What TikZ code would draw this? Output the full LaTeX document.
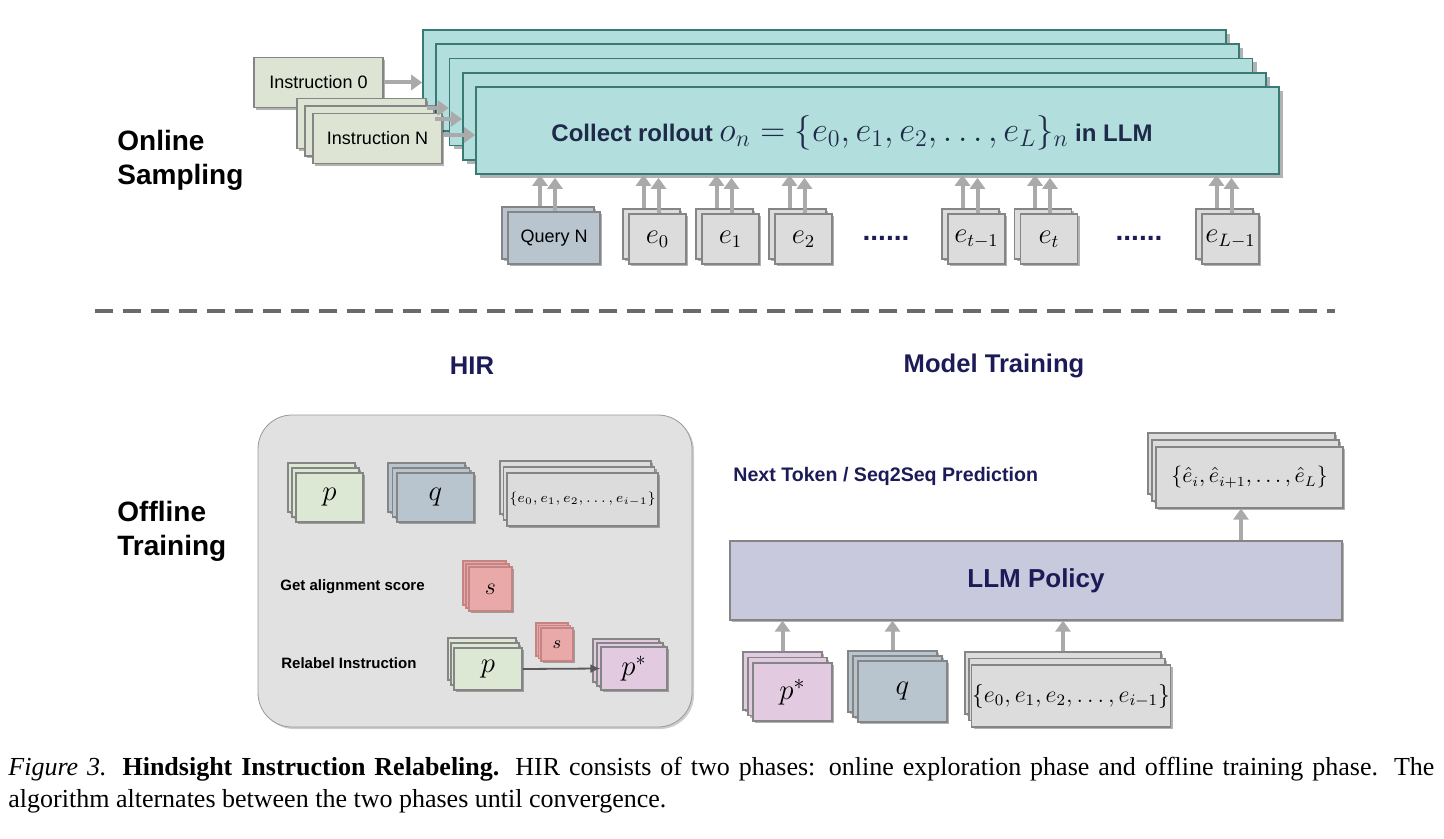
\documentclass[tikz,border=0pt]{standalone}
\usepackage{fontspec}
\setmainfont{Liberation Sans}
\newfontfamily\capfont{Liberation Serif}
\usetikzlibrary{arrows.meta,shadows}

\definecolor{instfill}{HTML}{DDE4D4}
\definecolor{cyanfill}{HTML}{B2DEDE}
\definecolor{cyanline}{HTML}{3A7A74}
\definecolor{queryfill}{HTML}{B8C4CE}
\definecolor{efill}{HTML}{DCDCDC}
\definecolor{pfill}{HTML}{DCE8D4}
\definecolor{sfill}{HTML}{E9A9A9}
\definecolor{sline}{HTML}{C48484}
\definecolor{psfill}{HTML}{E2CAE0}
\definecolor{llmfill}{HTML}{C9C9DD}
\definecolor{panelfill}{HTML}{E1E1E1}
\definecolor{cardline}{HTML}{858585}
\definecolor{arrowgray}{HTML}{AAAAAA}
\definecolor{navy}{HTML}{1C1B57}
\definecolor{rollnavy}{HTML}{1E2A48}
\definecolor{divgray}{HTML}{6A6A6A}

\newcommand{\sz}[1]{\fontsize{#1}{#1}\selectfont}

\newcommand{\pile}[7]{%
  \foreach \k in {#4,...,1}
    \node [#2, xshift = -\k*#5, yshift = \k*#6] at #3 {};
  \node [#2] (#1) at #3 {#7};
}

\tikzset{
  card/.style = {draw = cardline, line width = 0.6pt, inner sep = 0pt,
    drop shadow = {shadow xshift = 1.2pt, shadow yshift = -1.2pt, fill = black, opacity = 0.3}},
  cyanbox/.style = {draw = cyanline, fill = cyanfill, line width = 0.8pt, inner sep = 0pt,
    minimum width = 401.5pt, minimum height = 43.5pt,
    drop shadow = {shadow xshift = 2pt, shadow yshift = -2pt, fill = black, opacity = 0.3}},
  instbox/.style = {card, fill = instfill, minimum width = 64.5pt, minimum height = 25pt, font = \sz{9pt}},
  ebox/.style = {card, fill = efill, minimum width = 28.5pt, minimum height = 25pt, font = \sz{13.5pt}},
  feed/.style = {draw = arrowgray, line width = 2pt, -{Triangle[width = 7.5pt, length = 5.5pt]}},
  relab/.style = {draw = black!65, line width = 0.9pt, -{Latex[width = 4.5pt, length = 5pt]}},
  divider/.style = {draw = divgray, line width = 2pt, dash pattern = on 9pt off 5pt},
  heading/.style = {align = left, inner sep = 0pt, font = \bfseries\fontsize{14pt}{17pt}\selectfont},
  phase/.style = {text = navy, font = \bfseries\sz{12.8pt}},
  hirtext/.style = {anchor = west, inner sep = 0pt, font = \bfseries\sz{7.5pt}},
  dotrow/.style = {text = navy, font = \bfseries\sz{14pt}}
}

\begin{document}
\begin{tikzpicture}[x = 0.5pt, y = -0.5pt]
\useasboundingbox (0, 0) rectangle (1444, 839);

\node [heading, anchor = west] (online) at (117, 160) {Online\\Sampling};

\pile{rollout}{cyanbox}{(877.5, 130.5)}{4}{6.625pt}{7.125pt}{}

\node [text = rollnavy, font = \bfseries\sz{12pt}] (rolltext) at (852, 133)
  {Collect rollout {\sz{17pt}$o_n = \{e_0, e_1, e_2, \dots, e_L\}_n$} in LLM};

\foreach \k in {1,...,4}
  \coordinate (lay\k) at ([xshift = -\k*6.625pt, yshift = \k*7.125pt]rollout.west);

\node [instbox] (inst0) at (318.5, 82.5) {Instruction 0};

\pile{instN}{instbox}{(377.5, 138.5)}{2}{4pt}{3.75pt}{Instruction N}

\draw [feed] (inst0.east) -- (inst0.east -| lay4);

\coordinate (in1) at ([xshift = -8pt, yshift = 15.25pt]instN.east);
\coordinate (in2) at ([xshift = -4pt, yshift = 9.75pt]instN.east);
\coordinate (in3) at ([yshift = 1.75pt]instN.east);

\draw [feed] (in1) -- (in1 -| lay2);
\draw [feed] (in2) -- (in2 -| lay1);
\draw [feed] (in3) -- (in3 -| rollout.west);

\pile{query}{card, fill = queryfill, minimum width = 46pt, minimum height = 26pt, font = \sz{9pt}}{(554, 238)}{1}{3pt}{2.5pt}{Query N}

\pile{e0}{ebox}{(657.5, 239)}{1}{3pt}{2.5pt}{$e_0$}
\pile{e1}{ebox}{(730.5, 239)}{1}{3pt}{2.5pt}{$e_1$}
\pile{e2}{ebox}{(803.5, 239)}{1}{3pt}{2.5pt}{$e_2$}
\pile{etm}{ebox}{(976.5, 239)}{1}{3pt}{2.5pt}{$e_{t-1}$}
\pile{et}{ebox}{(1049, 239)}{1}{3pt}{2.5pt}{$e_t$}
\pile{eL}{ebox}{(1230.5, 239)}{1}{3pt}{2.5pt}{$e_{L-1}$}

\node [dotrow] (dotsa) at (886, 238) {......};
\node [dotrow] (dotsb) at (1139, 238) {......};

\foreach \n in {query, e0, e1, e2, etm, et, eL} {
  \coordinate (\n-b) at ([xshift = -7pt, yshift = 2.5pt]\n.north);
  \coordinate (\n-f) at ([xshift = 0.5pt]\n.north);
  \coordinate (\n-t) at (\n-f |- rollout.south);
  \draw [feed] (\n-b) -- (\n-b |- rollout.south);
  \draw [feed] (\n-f) -- ([yshift = -1.5pt]\n-t);
}

\draw [divider] (95, 311) -- (1335, 311);

\node [phase] (hir) at (472, 366) {HIR};
\node [phase] (training) at (994, 366) {Model Training};

\node [heading, anchor = west] (offline) at (117, 531) {Offline\\Training};

\node [draw = black!40, fill = panelfill, rounded corners = 17pt, minimum width = 217pt, minimum height = 156pt,
  drop shadow = {shadow xshift = 1pt, shadow yshift = -1pt, fill = black, opacity = 0.2}] (panel) at (475, 571) {};

\pile{hp}{card, fill = pfill, minimum width = 33.5pt, minimum height = 24.5pt, font = \sz{15pt}}{(329.5, 497.5)}{2}{2pt}{2.5pt}{$p$}
\pile{hq}{card, fill = queryfill, minimum width = 38.5pt, minimum height = 24.5pt, font = \sz{15pt}}{(435.5, 497.5)}{2}{2.25pt}{2.5pt}{$q$}
\pile{he}{card, fill = efill, minimum width = 75.5pt, minimum height = 26.5pt, font = \sz{7pt}}{(582.5, 499.5)}{2}{1.75pt}{3pt}{$\{e_0, e_1, e_2, \dots, e_{i-1}\}$}

\node [hirtext] (align) at (280, 587) {Get alignment score};
\pile{hs}{card, fill = sfill, draw = sline, minimum width = 21.5pt, minimum height = 22pt, font = \sz{13pt}}{(490.5, 589)}{2}{1.5pt}{1.5pt}{$s$}

\node [hirtext] (relabel) at (281, 663) {Relabel Instruction};
\pile{rp}{card, fill = pfill, minimum width = 34pt, minimum height = 21pt, font = \sz{14pt}}{(488, 669)}{2}{1.5pt}{2.5pt}{$p$}
\pile{rs}{card, fill = sfill, draw = sline, minimum width = 16pt, minimum height = 16.5pt, font = \sz{9pt}}{(557, 644.5)}{2}{1.25pt}{1.25pt}{$s$}
\pile{rps}{card, fill = psfill, minimum width = 33pt, minimum height = 21.5pt, font = \sz{14pt}}{(634, 668.5)}{2}{2pt}{2pt}{$p^*$}

\draw [relab] (rp.east) -- (rps.west);

\node [anchor = west, inner sep = 0pt, text = navy, font = \bfseries\sz{9.8pt}] (next) at (733, 476) {Next Token / Seq2Seq Prediction};

\node [card, fill = llmfill, minimum width = 306pt, minimum height = 39.5pt, text = navy, font = \bfseries\sz{13pt}] (llm) at (1036, 580.5) {LLM Policy};

\pile{out}{card, fill = efill, minimum width = 93.5pt, minimum height = 30.5pt, font = \sz{10.5pt}}{(1249.5, 477.5)}{2}{2pt}{3.5pt}{$\{\hat{e}_i, \hat{e}_{i+1}, \dots, \hat{e}_L\}$}

\pile{mp}{card, fill = psfill, minimum width = 39.5pt, minimum height = 29pt, font = \sz{15pt}}{(792.5, 692)}{2}{2.5pt}{2.75pt}{$p^*$}
\pile{mq}{card, fill = queryfill, minimum width = 44.5pt, minimum height = 30.5pt, font = \sz{14pt}}{(902.5, 691.5)}{2}{2.5pt}{2.5pt}{$q$}
\pile{me}{card, fill = efill, minimum width = 98pt, minimum height = 31pt, font = \sz{12pt}}{(1071, 696)}{2}{2pt}{3.25pt}{$\{e_0, e_1, e_2, \dots, e_{i-1}\}$}

\foreach \n/\dx/\dy in {mp/5pt/5.5pt, mq/5pt/5pt, me/4pt/6.5pt} {
  \coordinate (\n-top) at ([xshift = -\dx, yshift = \dy]\n.north);
  \draw [feed] (\n-top) -- (\n-top |- llm.south);
}

\coordinate (out-in) at ([xshift = -4.25pt]out.south);
\draw [feed] (out-in |- llm.north) -- (out-in);

\node [anchor = north west, inner sep = 0pt, text width = 713pt, align = justify,
  font = \capfont\fontsize{13pt}{16pt}\selectfont] (caption) at (8, 757)
  {\textit{Figure 3.} \textbf{Hindsight Instruction Relabeling.} HIR consists of two phases: online exploration phase and offline training phase. The\linebreak algorithm alternates between the two phases until convergence.};

\end{tikzpicture}
\end{document}
